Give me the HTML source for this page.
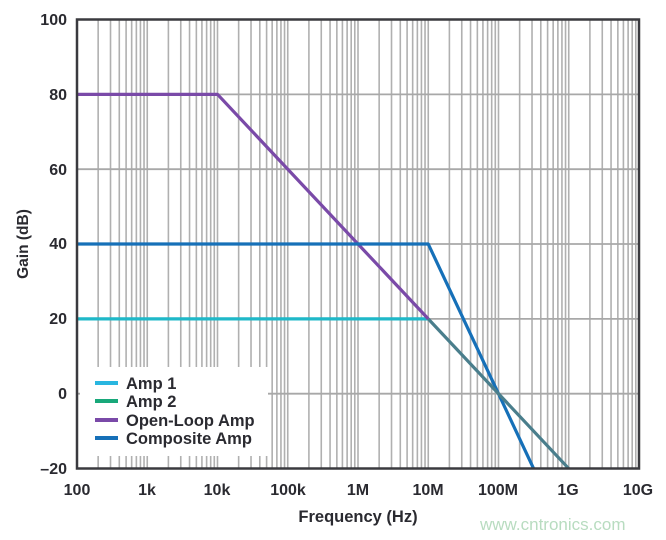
<!DOCTYPE html>
<html><head><meta charset="utf-8"><style>
html,body{margin:0;padding:0;background:#fff;width:666px;height:540px;overflow:hidden}
svg{display:block;font-family:"Liberation Sans",sans-serif;font-weight:bold}
</style></head><body>
<svg id="s" width="666" height="540" xmlns="http://www.w3.org/2000/svg">
<g id="grid"></g>
<rect x="80" y="367" width="188" height="89" fill="#fff"/>
<g id="lines" fill="none" stroke-width="3.2" stroke-linejoin="round"></g>
<rect x="77" y="19.5" width="562" height="449" fill="none" stroke="#3a3a3f" stroke-width="2.5"/>
<g font-size="16" fill="#2a2a30" text-anchor="end">
<text x="67" y="25">100</text><text x="67" y="100">80</text><text x="67" y="175">60</text>
<text x="67" y="249">40</text><text x="67" y="324">20</text><text x="67" y="399">0</text><text x="67" y="474">–20</text>
</g>
<g font-size="16" fill="#2a2a30" text-anchor="middle">
<text x="77" y="495">100</text><text x="147" y="495">1k</text><text x="217" y="495">10k</text><text x="288" y="495">100k</text>
<text x="358" y="495">1M</text><text x="428" y="495">10M</text><text x="498" y="495">100M</text><text x="568" y="495">1G</text><text x="638" y="495">10G</text>
<text x="358" y="522" font-size="16.5">Frequency (Hz)</text>
</g>
<text transform="translate(28,244) rotate(-90)" font-size="15.5" fill="#2a2a30" text-anchor="middle">Gain (dB)</text>
<g stroke-width="4">
<line x1="95" y1="383" x2="118" y2="383" stroke="#29b6e0"/>
<line x1="95" y1="401" x2="118" y2="401" stroke="#18a87a"/>
<line x1="95" y1="420" x2="118" y2="420" stroke="#7a4aa8"/>
<line x1="95" y1="438" x2="118" y2="438" stroke="#1670b8"/>
</g>
<g font-size="16.5" fill="#2a2a30">
<text x="126" y="389">Amp 1</text><text x="126" y="407">Amp 2</text>
<text x="126" y="426">Open-Loop Amp</text><text x="126" y="444">Composite Amp</text>
</g>
<text x="480" y="530" font-size="17" font-weight="normal" fill="#b8dcc0">www.cntronics.com</text>
</svg>
<script>
var X=function(f){return 77+(Math.log10(f)-2)*70.25};
var Y=function(d){return 19.5+(100-d)*3.742};
var g='';
for(var e=2;e<10;e++)for(var m=1;m<10;m++){var x=X(m*Math.pow(10,e));if(x>78&&x<638)g+='<line x1="'+x+'" y1="20" x2="'+x+'" y2="468" stroke="#b0b0b0" stroke-width="1.6"/>';}
for(var d=80;d>-20;d-=20){g+='<line x1="77" y1="'+Y(d)+'" x2="639" y2="'+Y(d)+'" stroke="#a8a8a8" stroke-width="1.8"/>';}
document.getElementById('grid').innerHTML=g;
function p(pts,c){return '<polyline stroke="'+c+'" points="'+pts.map(function(q){return X(q[0])+','+Y(q[1])}).join(' ')+'"/>';}
var l='';
l+=p([[100,20],[1e7,20]],'#1fb8c8');
l+=p([[100,80],[1e4,80],[1e7,20]],'#7a4aa8');
l+=p([[100,40],[1e7,40],[3.16e8,-20]],'#1670b8');
l+=p([[1e7,20],[1e9,-20]],'#4a7e8c');
document.getElementById('lines').innerHTML=l;
</script>
</body></html>
